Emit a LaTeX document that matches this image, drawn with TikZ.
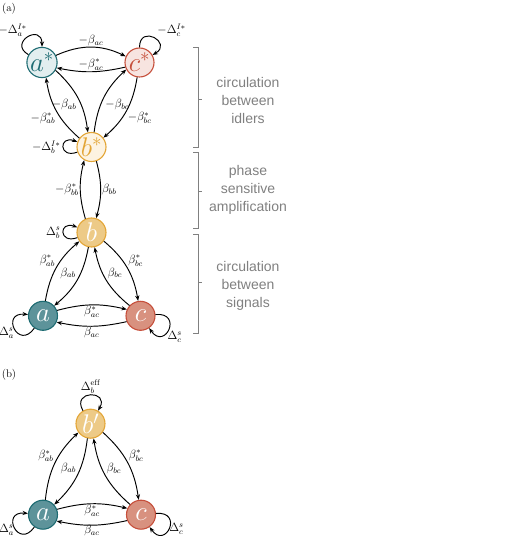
\documentclass[tikz,border=0pt]{standalone}
\usepackage{fix-cm}
\usepackage{fontspec}
\newfontfamily\notefont{Liberation Sans}
\usepackage{xcolor}
\usepackage{tikz}
\usetikzlibrary{arrows.meta, positioning}

\definecolor{tealline}{HTML}{1D6B72}
\definecolor{tealpale}{HTML}{E2EEEF}
\definecolor{tealfill}{HTML}{5D939A}
\definecolor{redline}{HTML}{C64F3B}
\definecolor{redpale}{HTML}{F7E4E0}
\definecolor{redfill}{HTML}{D8917F}
\definecolor{yelline}{HTML}{E3A535}
\definecolor{yelpale}{HTML}{FDF3E1}
\definecolor{yelfill}{HTML}{EDCA87}
\definecolor{notegray}{HTML}{808080}

\begin{document}
\begin{tikzpicture}[
    x=1pt, y=1pt,
    on grid,
    >={Stealth[length=5.5pt,width=4.2pt]},
    mode/.style={
        circle,
        draw,
        line width=1.1pt,
        minimum size=29pt,
        inner sep=0pt,
        font=\fontsize{27}{27}\selectfont
    },
    idlerA/.style={mode, draw=tealline, fill=tealpale, text=tealline},
    idlerB/.style={mode, draw=yelline, fill=yelpale, text=yelline},
    idlerC/.style={mode, draw=redline, fill=redpale, text=redline},
    signalA/.style={mode, draw=tealline, fill=tealfill, text=white},
    signalB/.style={mode, draw=yelline, fill=yelfill, text=white},
    signalC/.style={mode, draw=redline, fill=redfill, text=white},
    flow/.style={
        ->,
        line width=0.95pt,
        bend left=20
    },
    selfloop/.style={
        ->,
        line width=0.95pt,
        min distance=24pt
    },
    lbl/.style={
        font=\fontsize{12}{14}\selectfont,
        inner sep=1pt,
        auto
    },
    tag/.style={
        font=\fontsize{12}{14}\selectfont,
        inner sep=1.5pt
    },
    panel/.style={font=\fontsize{11}{13}\selectfont},
    bracket/.style={draw=notegray, line width=0.9pt},
    note/.style={
        font=\notefont\fontsize{14}{18}\selectfont,
        text=notegray,
        align=center
    }
]
\useasboundingbox (0,0) rectangle (506,536);

% --- (a) idlers ---------------------------------------------------------------

\node[panel] (pa) at (9,527) {(a)};

\node[idlerA] (as) at (42,473.5) {$a^*$};
\node[idlerC, right=97.5pt of as] (cs) {$c^*$};
\node[idlerB, below right=84.5pt and 49.5pt of as] (bs) {$b^*$};

% --- (a) signals --------------------------------------------------------------

\node[signalB, below=85.5pt of bs] (b) {$b$};
\node[signalA, below left=83.3pt and 48.5pt of b] (a) {$a$};
\node[signalC, below right=83.3pt and 49pt of b] (c) {$c$};

% --- (b) reduced loop ---------------------------------------------------------

\node[panel] (pb) at (9,161) {(b)};

\node[signalB] (bp) at (90.5,112.3) {$b'$};
\node[signalA, below left=91pt and 47.5pt of bp] (ap) {$a$};
\node[signalC, below right=91pt and 50.5pt of bp] (cp) {$c$};

% --- Couplings, idlers --------------------------------------------------------

\draw[flow, bend left=25] (as.27) to node[lbl] {$-\beta_{ac}$} (cs.156);
\draw[flow, bend left=12] (cs.198) to node[lbl, swap] {$-\beta_{ac}^*$} (as.-20);
\draw[flow] (bs.144) to node[lbl] {$-\beta_{ab}^*$} (as.-75);
\draw[flow] (as.-30) to node[lbl, swap] {$-\beta_{ab}$} (bs.104);
\draw[flow] (bs.80) to node[lbl, swap] {$-\beta_{bc}$} (cs.208);
\draw[flow] (cs.-99) to node[lbl] {$-\beta_{bc}^*$} (bs.38);

% --- Amplification ------------------------------------------------------------

\draw[flow, bend left=15] (b.114) to node[lbl] {$-\beta_{bb}^*$} (bs.-119);
\draw[flow, bend left=15] (bs.-71) to node[lbl] {$\beta_{bb}$} (b.72);

% --- Couplings, signals -------------------------------------------------------

\draw[flow] (a.81) to node[lbl] {$\beta_{ab}^*$} (b.216);
\draw[flow] (b.-102) to node[lbl, swap] {$\beta_{ab}$} (a.42);
\draw[flow] (b.-35) to node[lbl] {$\beta_{bc}^*$} (c.99);
\draw[flow] (c.137) to node[lbl, swap] {$\beta_{bc}$} (b.-78);
\draw[flow, bend left=14] (a.21) to node[lbl, swap] {$\beta_{ac}^*$} (c.155);
\draw[flow, bend left=12] (c.203) to node[lbl] {$\beta_{ac}$} (a.-25);

\draw[flow] (ap.81) to node[lbl] {$\beta_{ab}^*$} (bp.216);
\draw[flow] (bp.-102) to node[lbl, swap] {$\beta_{ab}$} (ap.42);
\draw[flow] (bp.-35) to node[lbl] {$\beta_{bc}^*$} (cp.99);
\draw[flow] (cp.137) to node[lbl, swap] {$\beta_{bc}$} (bp.-78);
\draw[flow, bend left=14] (ap.21) to node[lbl, swap] {$\beta_{ac}^*$} (cp.155);
\draw[flow, bend left=12] (cp.203) to node[lbl, inner sep=0pt] {$\beta_{ac}$} (ap.-25);

% --- Detunings ----------------------------------------------------------------

\draw[selfloop] (as) to[out=150, in=90] node[tag, pos=0.45, above left, xshift=3pt] {$-\Delta_a^{I*}$} (as);
\draw[selfloop] (cs) to[out=90, in=30] node[tag, pos=0.55, above right] {$-\Delta_c^{I*}$} (cs);
\draw[selfloop, min distance=20pt] (bs) to[out=200, in=160] node[tag, left, xshift=-1pt] {$-\Delta_b^{I*}$} (bs);
\draw[selfloop, min distance=20pt] (b) to[out=200, in=160] node[tag, left, xshift=-1pt] {$\Delta_b^{s}$} (b);
\draw[selfloop, min distance=28pt] (a) to[out=235, in=175] node[tag, pos=0.45, left, yshift=-2pt] {$\Delta_a^{s}$} (a);
\draw[selfloop, min distance=28pt] (c) to[out=5, in=-55] node[tag, pos=0.62, right, yshift=-4pt] {$\Delta_c^{s}$} (c);

\draw[selfloop] (bp) to[out=120, in=60] node[tag, above] {$\Delta_b^{\mathrm{eff}}$} (bp);
\draw[selfloop, min distance=28pt] (ap) to[out=235, in=175] node[tag, pos=0.45, left] {$\Delta_a^{s}$} (ap);
\draw[selfloop, min distance=28pt] (cp) to[out=5, in=-55] node[tag, pos=0.58, right, yshift=2pt] {$\Delta_c^{s}$} (cp);

% --- Grouping brackets --------------------------------------------------------

\node[note] (n1) at (248,436) {circulation\\between\\idlers};
\node[note] (n2) at (248,346) {phase\\sensitive\\amplification};
\node[note] (n3) at (248,250) {circulation\\between\\signals};

\draw[bracket] (193,489) -- (198,489) -- (198,389) -- (193,389) (198,437) -- (202,437);
\draw[bracket] (193,384) -- (198,384) -- (198,308) -- (193,308) (198,345) -- (202,345);
\draw[bracket] (193,302) -- (198,302) -- (198,203) -- (193,203) (198,254) -- (202,254);

\end{tikzpicture}
\end{document}
